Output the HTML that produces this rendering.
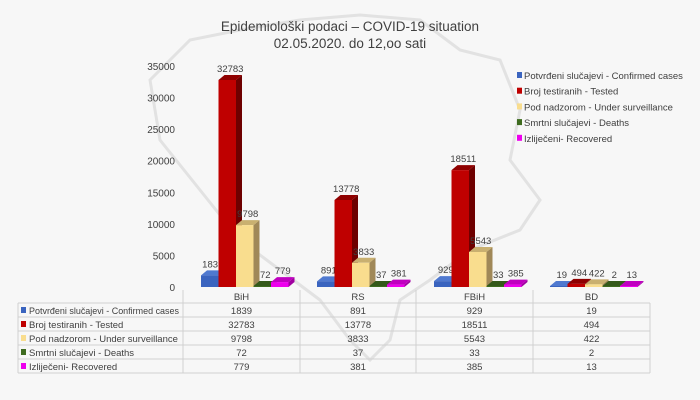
<!DOCTYPE html>
<html><head><meta charset="utf-8"><style>
body{margin:0;background:#fff}
svg{display:block;font-family:"Liberation Sans",sans-serif}
</style></head><body>
<svg id="s" width="700" height="400" viewBox="0 0 700 400" xmlns="http://www.w3.org/2000/svg">
<rect x="0" y="0" width="700" height="400" fill="#f7f7f7"/>
<path d="M150 80 L190 40 L240 30 L300 20 L360 15 L420 20 L460 50 L500 60 L520 110 L510 160 L540 200 L520 230 L470 250 L430 280 L400 300 L390 340 L370 360 L350 340 L320 300 L280 270 L240 240 L200 190 L160 140 Z" fill="none" stroke="#e2e2e2" stroke-width="3"/>
<text x="350" y="31" text-anchor="middle" font-size="13.5" fill="#404040">Epidemiološki podaci – COVID-19 situation</text>
<text x="350" y="48" text-anchor="middle" font-size="13.5" fill="#404040">02.05.2020. do 12,oo sati</text>
<g id="g"></g>
</svg>
<script>
const g=document.getElementById('g');let h='';
const base=287,sc=221/35000;
for(let v=0;v<=35000;v+=5000){const y=base-v*sc;h+=`<text x="175" y="${y+4}" text-anchor="end" font-size="10" fill="#404040">${v}</text>`;}
const cats=['BiH','RS','FBiH','BD'];
const data=[[1839,891,929,19],[32783,13778,18511,494],[9798,3833,5543,422],[72,37,33,2],[779,381,385,13]];
const cols=[['#3a64bf','#2b4a8f','#4f79d0'],['#bf0000','#6e0000','#8f0000'],['#f9dd8e','#a08858','#c9b070'],['#3e6b1f','#2a4a14','#34591a'],['#ee00ee','#a000a0','#c000c0']];
const names=['Potvrđeni slučajevi - Confirmed cases','Broj testiranih - Tested','Pod nadzorom - Under surveillance','Smrtni slučajevi - Deaths','Izliječeni- Recovered'];
const centers=[245,361,478,594];const bw=17.5,dx=6,dy=5;
cats.forEach((c,ci)=>{const x0=centers[ci]-44;
 for(let s=0;s<5;s++){const v=data[s][ci];const x=x0+s*bw;const hh=Math.max(v*sc,1);const y=base-hh;const[f,side,top]=cols[s];
  h+=`<polygon points="${x+bw},${y} ${x+bw+dx},${y-dy} ${x+bw+dx},${base-dy} ${x+bw},${base}" fill="${side}"/>`;
  h+=`<polygon points="${x},${y} ${x+dx},${y-dy} ${x+bw+dx},${y-dy} ${x+bw},${y}" fill="${top}"/>`;
  h+=`<rect x="${x}" y="${y}" width="${bw}" height="${hh}" fill="${f}"/>`;
  h+=`<text x="${x+bw/2+3}" y="${y-dy-3}" text-anchor="middle" font-size="9.5" fill="#404040">${v}</text>`;}
});
const xs=[18,183,300,416,533,650];
h+=`<line x1="183" y1="290" x2="183" y2="373" stroke="#d0d0d0"/>`;
[300,416,533].forEach(x=>h+=`<line x1="${x}" y1="290" x2="${x}" y2="303" stroke="#d0d0d0"/>`);
cats.forEach((c,ci)=>h+=`<text x="${(xs[ci+1]+xs[ci+2])/2}" y="300" text-anchor="middle" font-size="9.5" fill="#404040">${c}</text>`);
for(let r=0;r<=5;r++){const y=303+r*14;h+=`<line x1="18" y1="${y}" x2="650" y2="${y}" stroke="#d0d0d0"/>`;}
xs.forEach(x=>h+=`<line x1="${x}" y1="303" x2="${x}" y2="373" stroke="#d0d0d0"/>`);
for(let s=0;s<5;s++){const y=303+s*14;
 h+=`<rect x="21" y="${y+4}" width="5" height="6" fill="${cols[s][0]}"/>`;
 h+=`<text x="29" y="${y+11}" font-size="9.5" fill="#404040" textLength="${s==0?150:0}" ${s==0?'lengthAdjust="spacingAndGlyphs"':''}>${names[s]}</text>`;
 for(let ci=0;ci<4;ci++)h+=`<text x="${(xs[ci+1]+xs[ci+2])/2}" y="${y+11}" text-anchor="middle" font-size="9.5" fill="#404040">${data[s][ci]}</text>`;
 const ly=76+s*15.7;
 h+=`<rect x="517" y="${ly-4}" width="5" height="6" fill="${cols[s][0]}"/>`;
 h+=`<text x="524" y="${ly+3}" font-size="9.5" fill="#404040">${names[s]}</text>`;}
g.innerHTML=h;
</script>
</body></html>
